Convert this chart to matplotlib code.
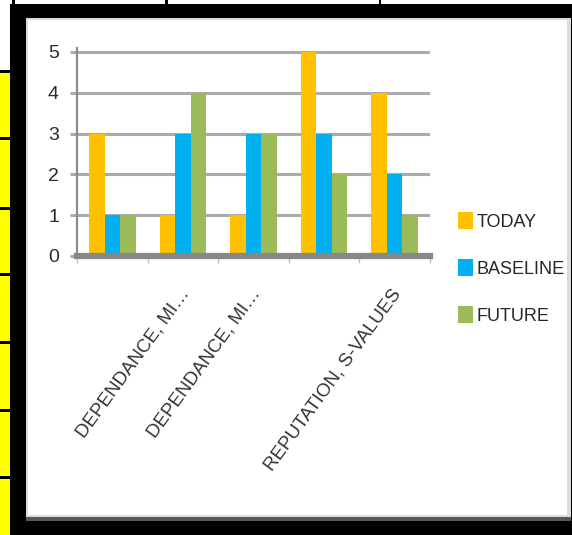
import numpy as np
import matplotlib
matplotlib.use("Agg")
import matplotlib.pyplot as plt
from matplotlib.patches import Rectangle
from matplotlib.transforms import ScaledTranslation

plt.rcParams['font.family'] = ['Liberation Sans', 'DejaVu Sans']

# chart data
categories = ["", "DEPENDANCE, MI…", "DEPENDANCE, MI…", "", "REPUTATION, S-VALUES"]
series_names = ["TODAY", "BASELINE", "FUTURE"]
today = [3, 1, 1, 5, 4]
baseline = [1, 3, 3, 3, 2]
future = [1, 4, 3, 2, 1]
colors = ["#FFC000", "#00B0F0", "#9BBB59"]

W, H = 572, 535
fig = plt.figure(figsize=(W / 100, H / 100), dpi=100)
fig.patch.set_facecolor("black")


def box(x0, y0, x1, y1, **kw):
    # rectangle in pixel coords measured from the top-left corner
    r = Rectangle((x0 / W, 1 - y1 / H), (x1 - x0) / W, (y1 - y0) / H,
                  transform=fig.transFigure, zorder=-5, **kw)
    fig.add_artist(r)
    return r


# surrounding spreadsheet bits
box(0, 0, 10, 70, facecolor="white", lw=0)
box(0, 0, 12, 3.5, facecolor="white", lw=0)
box(15, 0, W, 3.5, facecolor="white", lw=0)
box(165, 0, 168, 3.5, facecolor="black", lw=0)
box(379, 0, 381, 3.5, facecolor="black", lw=0)
seps = [70, 137, 207, 273, 341, 409, 476, 535]
for a, b in zip(seps[:-1], seps[1:]):
    box(0, a + 3, 10, b, facecolor="#FFFF00", lw=0)

# chart panel
box(26, 18, 571, 521, facecolor="#595959", lw=0)
box(26, 18, 571, 517, facecolor="#dcdcdc", lw=0)
box(28, 20, 567, 515, facecolor="white", lw=0)

# plot area
px_per_unit = 40.8
y0_px = 256
ytop = 5.1
ax = fig.add_axes([77 / W, 1 - y0_px / H, (430 - 77) / W, ytop * px_per_unit / H])
ax.set_facecolor("none")
ax.set_zorder(5)

x = np.arange(len(categories))
bw = 0.22
bars = []
for i, (vals, c, name) in enumerate(zip([today, baseline, future], colors, series_names)):
    bars.append(ax.bar(x + (i - 1) * bw, vals, bw, color=c, label=name, zorder=1))

ax.set_xlim(-0.5, len(categories) - 0.5)
ax.set_ylim(0, ytop)
ax.set_yticks(range(6))
ax.set_axisbelow(True)
ax.yaxis.grid(True, color="#ababab", lw=2.2)
ax.tick_params(axis="y", length=5, width=2.2, color="#ababab", labelsize=14,
               labelcolor="#2a2a2a", pad=8)

for s in ["top", "right"]:
    ax.spines[s].set_visible(False)
ax.spines["left"].set_color("#8a8a8a")
ax.spines["left"].set_linewidth(1.5)
ax.spines["bottom"].set_color("#878787")
ax.spines["bottom"].set_linewidth(4.5)
ax.spines["bottom"].set_zorder(3)

ax.set_xticks(x)
ax.set_xticklabels(categories, rotation=54, ha="right", va="center",
                   rotation_mode="anchor", fontsize=13.5, color="#333333")
ax.tick_params(axis="x", which="major", length=0, pad=25)
ax.set_xticks(np.arange(-0.5, len(categories)), minor=True)
ax.tick_params(axis="x", which="minor", length=5, width=1, color="#c0c0c0")
off = ScaledTranslation(3 / 100, 0, fig.dpi_scale_trans)
for lab in ax.get_xticklabels():
    lab.set_transform(lab.get_transform() + off)

fig.legend(handles=bars, labels=series_names, loc="upper left",
           bbox_to_anchor=(458 / W, 1 - 212 / H), frameon=False,
           fontsize=13, handlelength=0.83, handleheight=1.05,
           handletextpad=0.2, labelspacing=1.58, borderpad=0,
           borderaxespad=0, labelcolor="#262626")

fig.savefig("out.png", dpi=100, facecolor=fig.get_facecolor())
